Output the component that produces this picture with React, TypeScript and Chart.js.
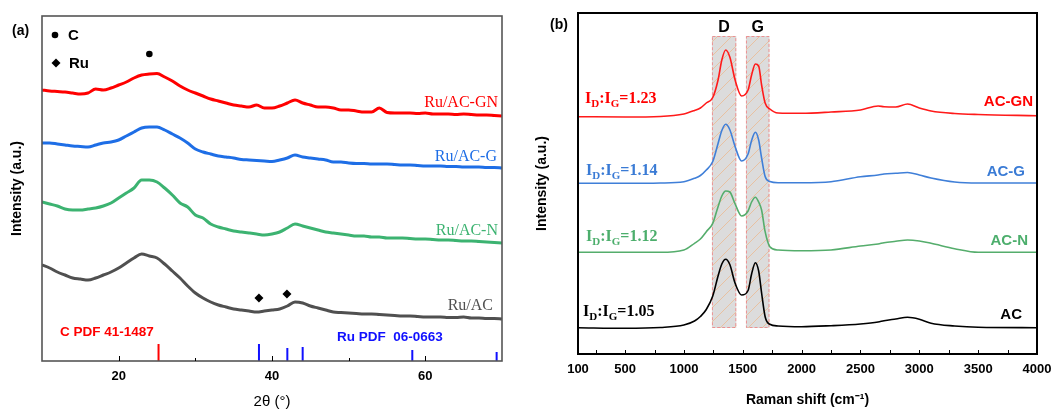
import { useEffect, useRef } from "react";
import { Chart, registerables } from "chart.js";

Chart.register(...registerables);

// ---------------- Panel (a): XRD ----------------
const twoTheta: number[] = Array.from({ length: 61 }, (_, i) => 10 + i);

const xrdRuACGN = [271, 270, 269.5, 269, 268, 267, 268, 272, 271, 273, 276, 279, 283, 286, 287, 287.5, 284, 280, 275, 271, 268, 265, 262, 260, 258, 256, 255, 254, 256, 253, 253, 255, 258, 261, 258, 256, 254, 254, 253, 251, 251, 250, 249, 249, 253, 248.5, 248, 248, 248, 247.5, 248, 247, 247, 247, 246.5, 247, 246.5, 246, 246, 245.5, 245];
const xrdRuACG = [218, 218, 217, 216, 215, 214.5, 214, 216, 218, 219, 221, 225, 229, 233, 234, 234, 231, 227, 223, 218, 212, 209, 207, 205, 204, 203, 201.5, 201, 200.5, 200, 199.5, 201, 203, 206, 204, 203, 202, 201, 199, 199, 198, 197.5, 197.5, 197, 197, 197, 196.5, 196, 196, 195.5, 195, 195, 195, 194.5, 194.5, 194, 194, 194, 193.5, 193.5, 193];
const xrdRuACN = [159, 157, 155, 152, 151, 151, 152, 153, 155, 158, 163, 168, 173, 181, 181, 179, 173, 166, 158, 154, 146, 143, 137, 134, 132, 130, 129, 128, 127, 126, 127, 129, 133, 137, 135, 133, 131, 129, 128, 127, 126, 125, 125, 124, 124, 123, 123, 123, 122.5, 122, 122, 121.5, 121, 121, 120.5, 120, 120, 119.5, 119, 118.5, 118];
const xrdRuAC = [96, 93, 89, 86, 83, 82, 81, 83, 86, 89, 93, 98, 103, 107, 105, 103, 97, 90, 83, 75, 68, 63, 59, 56, 54, 52, 51, 50, 49, 50, 51, 52, 55, 59, 58, 55, 53, 51, 49, 48.5, 48, 47.5, 47, 47, 46.5, 46, 45.5, 45, 45, 44.5, 44, 44, 44, 43.5, 43.5, 44, 43, 43, 42.5, 42.5, 42];

const xrdLabels = ["Ru/AC-GN", "Ru/AC-G", "Ru/AC-N", "Ru/AC"];
const xrdColors = ["#ff0000", "#1e6ee6", "#3cb371", "#505050"];

const pdfCPos = [25.2];
const pdfCHeight = [17];
const pdfRuPos = [38.3, 42.0, 44.0, 58.3, 69.3];
const pdfRuHeight = [17, 13, 14, 11, 9];

const carbonPeakX = [24.0];
const carbonPeakY = [307];
const ruPeakX = [38.3, 41.95];
const ruPeakY = [63, 67];

const xrdTickLabels = [20, 40, 60];
const xrdMinorTicks = [30, 50];

// ---------------- Panel (b): Raman ----------------
const ramanShift = [100, 500, 800, 1000, 1090, 1140, 1190, 1245, 1290, 1322, 1355, 1390, 1435, 1490, 1545, 1575, 1607, 1635, 1660, 1690, 1730, 1800, 2000, 2250, 2500, 2650, 2700, 2800, 2900, 3000, 3100, 3300, 3500, 4000];
const ramanACGN = [237.3, 237, 237.5, 240, 243.5, 246, 251, 256.5, 274, 294, 304, 297, 274, 258, 264, 279, 290, 288, 269, 251, 245, 241, 240.7, 242, 244, 248, 247.3, 247, 250, 246, 243, 240.5, 239.5, 238.3];
const ramanACG = [170.7, 170.7, 171, 172.3, 175.7, 178.5, 184, 192.5, 210.5, 223.5, 229.7, 224.3, 207.3, 193, 200, 213.5, 221.7, 214, 196, 177.5, 172.5, 171.3, 171.3, 172.3, 177.3, 179, 180, 180.7, 181.5, 179, 176, 172, 171, 171];
const ramanACN = [101.7, 101.7, 101.7, 104, 110.7, 115, 122.3, 130.7, 147.3, 158, 163, 162, 150, 138, 143, 152, 156.7, 152, 144, 122.3, 107.3, 104, 103.3, 104, 108, 110, 111.3, 112.7, 114, 113, 110.7, 105.3, 101.7, 101.7];
const ramanAC = [26.3, 25.7, 26.5, 29, 33, 37.5, 44.5, 58, 78, 90, 94.7, 89.5, 70.7, 59, 63.5, 80, 91.3, 83, 61, 37.3, 29.7, 28, 27.3, 28.3, 30, 32, 33.3, 35, 36.7, 34.8, 30.8, 28, 26.7, 26.3];

const ramanLabels = ["AC-GN", "AC-G", "AC-N", "AC"];
const ramanColors = ["#ff1a1a", "#3f7fd8", "#55ad6c", "#000000"];
const ramanLabelColors = ["#ff0000", "#3a7bd5", "#4cae6c", "#000000"];
const ramanRatios = ["1.23", "1.14", "1.12", "1.05"];

const bandNames = ["D", "G"];
const bandStart = [1238, 1527];
const bandEnd = [1445, 1727];
const bandLow = 26;
const bandHigh = 318;

const ramanTickLabels = [100, 500, 1000, 1500, 2000, 2500, 3000, 3500, 4000];
const ramanMinorTicks = [250, 750, 1250, 1750, 2250, 2750, 3250, 3750];

const SANS = '"Liberation Sans", Arial, sans-serif';
const SERIF = '"Liberation Serif", "Times New Roman", serif';

// ---------------- helpers ----------------
function drawFrameAndTicks(chart: any, color: string, width: number, major: number[], minor: number[], majorLen: number, minorLen: number) {
  const { ctx, chartArea, scales } = chart;
  const { left, top, right, bottom } = chartArea;
  ctx.save();
  ctx.strokeStyle = color;
  ctx.lineWidth = width;
  ctx.strokeRect(left, top, right - left, bottom - top);
  ctx.lineWidth = 1;
  ctx.strokeStyle = "#000";
  const tick = (v: number, len: number) => {
    const px = Math.round(scales.x.getPixelForValue(v)) + 0.5;
    ctx.beginPath();
    ctx.moveTo(px, bottom);
    ctx.lineTo(px, bottom - len);
    ctx.stroke();
  };
  major.forEach((v) => tick(v, majorLen));
  minor.forEach((v) => tick(v, minorLen));
  ctx.restore();
}

function drawRatio(ctx: CanvasRenderingContext2D, x: number, y: number, value: string, color: string) {
  const big = `bold 16px ${SERIF}`;
  const small = `bold 11px ${SERIF}`;
  ctx.fillStyle = color;
  ctx.textBaseline = "alphabetic";
  ctx.textAlign = "left";
  const parts: [string, string, number][] = [
    ["I", big, 0],
    ["D", small, 4],
    [":I", big, 0],
    ["G", small, 4],
    ["=" + value, big, 0],
  ];
  let cx = x;
  for (const [t, f, dy] of parts) {
    ctx.font = f;
    ctx.fillText(t, cx, y + dy);
    cx += ctx.measureText(t).width;
  }
}

const xrdDecor = {
  id: "xrdDecor",
  afterDraw(chart: any) {
    const { ctx, chartArea } = chart;
    const { left, top } = chartArea;
    drawFrameAndTicks(chart, "#555", 1.6, xrdTickLabels, xrdMinorTicks, 5, 3);
    ctx.save();
    ctx.fillStyle = "#000";
    ctx.font = `bold 14px ${SANS}`;
    ctx.textAlign = "left";
    ctx.textBaseline = "middle";
    ctx.fillText("(a)", 12, 31);
    ctx.beginPath();
    ctx.arc(left + 13, top + 19, 3.3, 0, Math.PI * 2);
    ctx.fill();
    const dx = left + 14, dy = top + 47;
    ctx.beginPath();
    ctx.moveTo(dx, dy - 4.5);
    ctx.lineTo(dx + 4.5, dy);
    ctx.lineTo(dx, dy + 4.5);
    ctx.lineTo(dx - 4.5, dy);
    ctx.closePath();
    ctx.fill();
    ctx.font = `bold 15px ${SANS}`;
    ctx.fillText("C", left + 26, top + 20);
    ctx.fillText("Ru", left + 27, top + 48);
    ctx.font = `16px ${SERIF}`;
    ctx.textAlign = "right";
    const labelY = [103, 157, 231, 306];
    const labelRight = [498, 497, 498, 493];
    xrdLabels.forEach((t, i) => {
      ctx.fillStyle = xrdColors[i];
      ctx.fillText(t, labelRight[i], labelY[i]);
    });
    ctx.textAlign = "left";
    ctx.font = `bold 13.5px ${SANS}`;
    ctx.fillStyle = "#ff0000";
    ctx.fillText("C PDF 41-1487", 60, 332);
    ctx.fillStyle = "#1010ff";
    ctx.fillText("Ru PDF  06-0663", 337, 337);
    ctx.restore();
  },
};

let hatchPattern: CanvasPattern | null = null;
function getHatch(ctx: CanvasRenderingContext2D) {
  if (hatchPattern) return hatchPattern;
  const c = document.createElement("canvas");
  c.width = 14;
  c.height = 14;
  const g = c.getContext("2d")!;
  g.fillStyle = "#dcdcdc";
  g.fillRect(0, 0, 14, 14);
  g.strokeStyle = "rgba(240,175,120,0.75)";
  g.lineWidth = 0.8;
  g.beginPath();
  g.moveTo(-1, 15);
  g.lineTo(15, -1);
  g.stroke();
  hatchPattern = ctx.createPattern(c, "repeat");
  return hatchPattern;
}

const ramanDecor = {
  id: "ramanDecor",
  beforeDatasetsDraw(chart: any) {
    const { ctx, scales } = chart;
    ctx.save();
    const yTop = scales.y.getPixelForValue(bandHigh);
    const yBot = scales.y.getPixelForValue(bandLow);
    bandStart.forEach((s, i) => {
      const x0 = scales.x.getPixelForValue(s);
      const x1 = scales.x.getPixelForValue(bandEnd[i]);
      ctx.fillStyle = getHatch(ctx);
      ctx.fillRect(x0, yTop, x1 - x0, yBot - yTop);
      ctx.strokeStyle = "rgba(240,120,120,0.75)";
      ctx.lineWidth = 1;
      ctx.setLineDash([3, 2]);
      ctx.strokeRect(x0 + 0.5, yTop + 0.5, x1 - x0 - 1, yBot - yTop - 1);
      ctx.setLineDash([]);
      ctx.fillStyle = "#000";
      ctx.font = `bold 16px ${SANS}`;
      ctx.textAlign = "center";
      ctx.textBaseline = "middle";
      ctx.fillText(bandNames[i], (x0 + x1) / 2, 27.5);
    });
    ctx.restore();
  },
  afterDraw(chart: any) {
    const { ctx } = chart;
    drawFrameAndTicks(chart, "#000", 2, ramanTickLabels.slice(1, -1), ramanMinorTicks, 4, 4);
    ctx.save();
    ctx.fillStyle = "#000";
    ctx.font = `bold 14px ${SANS}`;
    ctx.textAlign = "left";
    ctx.textBaseline = "middle";
    ctx.fillText("(b)", 20, 25);
    const ratioX = [55, 56, 56, 53];
    const ratioY = [102.5, 174.5, 241, 316];
    ramanRatios.forEach((v, i) => drawRatio(ctx, ratioX[i], ratioY[i], v, ramanLabelColors[i]));
    ctx.font = `bold 15px ${SANS}`;
    ctx.textAlign = "right";
    ctx.textBaseline = "middle";
    const labelRight = [503, 495, 498, 492];
    const labelY = [102, 172, 241, 315];
    ramanLabels.forEach((t, i) => {
      ctx.fillStyle = ramanLabelColors[i];
      ctx.fillText(t, labelRight[i], labelY[i]);
    });
    ctx.restore();
  },
};

function xrdConfig(): any {
  const series = [xrdRuACGN, xrdRuACG, xrdRuACN, xrdRuAC];
  const datasets: any[] = series.map((s, i) => ({
    type: "line",
    label: xrdLabels[i],
    data: twoTheta.map((x, j) => ({ x, y: s[j] })),
    borderColor: xrdColors[i],
    borderWidth: 3,
    pointRadius: 0,
    cubicInterpolationMode: "monotone",
  }));
  pdfCPos.forEach((p, i) =>
    datasets.push({ type: "line", data: [{ x: p, y: 0 }, { x: p, y: pdfCHeight[i] }], borderColor: "#ff0000", borderWidth: 2, pointRadius: 0 })
  );
  pdfRuPos.forEach((p, i) =>
    datasets.push({ type: "line", data: [{ x: p, y: 0 }, { x: p, y: pdfRuHeight[i] }], borderColor: "#1010ff", borderWidth: 2, pointRadius: 0 })
  );
  datasets.push({
    type: "scatter",
    data: carbonPeakX.map((x, i) => ({ x, y: carbonPeakY[i] })),
    pointStyle: "circle",
    pointRadius: 3.3,
    backgroundColor: "#000",
    borderColor: "#000",
    borderWidth: 0,
  });
  datasets.push({
    type: "scatter",
    data: ruPeakX.map((x, i) => ({ x, y: ruPeakY[i] })),
    pointStyle: "rectRot",
    pointRadius: 4.5,
    backgroundColor: "#000",
    borderColor: "#000",
    borderWidth: 0,
  });
  return {
    type: "line",
    data: { datasets },
    options: {
      animation: false,
      responsive: false,
      devicePixelRatio: 1,
      layout: { padding: { top: 16, right: 28, left: 0, bottom: 0 } },
      plugins: { legend: { display: false }, tooltip: { enabled: false } },
      scales: {
        x: {
          type: "linear",
          min: 10,
          max: 70,
          afterBuildTicks: (s: any) => {
            s.ticks = xrdTickLabels.map((v) => ({ value: v }));
          },
          afterFit: (s: any) => {
            s.height = 50;
            s.paddingLeft = 0;
            s.paddingRight = 0;
          },
          grid: { display: false, drawTicks: false },
          border: { display: false },
          ticks: { color: "#000", font: { family: SANS, size: 13, weight: "bold" }, padding: 8, maxRotation: 0, autoSkip: false, callback: (v: any) => String(v) },
          title: { display: true, text: "2θ (°)", color: "#000", font: { family: SANS, size: 15 }, padding: { top: 0, bottom: 0 } },
        },
        y: {
          type: "linear",
          min: 0,
          max: 345,
          afterFit: (s: any) => {
            s.width = 42;
            s.paddingTop = 0;
            s.paddingBottom = 0;
          },
          grid: { display: false, drawTicks: false },
          border: { display: false },
          ticks: { display: false },
          title: { display: true, text: "Intensity (a.u.)", color: "#000", font: { family: SANS, size: 14, weight: "bold" }, padding: { top: 9, bottom: 0 } },
        },
      },
    },
    plugins: [xrdDecor],
  };
}

function ramanConfig(): any {
  const series = [ramanACGN, ramanACG, ramanACN, ramanAC];
  const datasets = series.map((s, i) => ({
    type: "line",
    label: ramanLabels[i],
    data: ramanShift.map((x, j) => ({ x, y: s[j] })),
    borderColor: ramanColors[i],
    borderWidth: 1.6,
    pointRadius: 0,
    cubicInterpolationMode: "monotone",
  }));
  return {
    type: "line",
    data: { datasets },
    options: {
      animation: false,
      responsive: false,
      devicePixelRatio: 1,
      layout: { padding: { top: 13, right: 20, left: 0, bottom: 0 } },
      plugins: { legend: { display: false }, tooltip: { enabled: false } },
      scales: {
        x: {
          type: "linear",
          min: 100,
          max: 4000,
          afterBuildTicks: (s: any) => {
            s.ticks = ramanTickLabels.map((v) => ({ value: v }));
          },
          afterFit: (s: any) => {
            s.height = 57;
            s.paddingLeft = 0;
            s.paddingRight = 0;
          },
          grid: { display: false, drawTicks: false },
          border: { display: false },
          ticks: { color: "#000", font: { family: SANS, size: 13, weight: "bold" }, padding: 8, maxRotation: 0, autoSkip: false, callback: (v: any) => String(v) },
          title: { display: true, text: "Raman shift (cm⁻¹)", color: "#000", font: { family: SANS, size: 14, weight: "bold" }, padding: { top: 0, bottom: 2 } },
        },
        y: {
          type: "linear",
          min: 0,
          max: 341,
          afterFit: (s: any) => {
            s.width = 48;
            s.paddingTop = 0;
            s.paddingBottom = 0;
          },
          grid: { display: false, drawTicks: false },
          border: { display: false },
          ticks: { display: false },
          title: { display: true, text: "Intensity (a.u.)", color: "#000", font: { family: SANS, size: 14, weight: "bold" }, padding: { top: 4, bottom: 0 } },
        },
      },
    },
    plugins: [ramanDecor],
  };
}

function ChartCanvas({ make, width, height, left }: { make: () => any; width: number; height: number; left: number }) {
  const ref = useRef<HTMLCanvasElement>(null);
  useEffect(() => {
    const chart = new Chart(ref.current as HTMLCanvasElement, make());
    return () => chart.destroy();
  }, [make]);
  return (
    <canvas
      ref={ref}
      width={width}
      height={height}
      style={{ position: "absolute", left, top: 0, width, height }}
    />
  );
}

export default function App() {
  return (
    <div style={{ position: "fixed", left: 0, top: 0, width: 1057, height: 411, background: "#fff", overflow: "hidden" }}>
      <ChartCanvas make={xrdConfig} width={530} height={411} left={0} />
      <ChartCanvas make={ramanConfig} width={527} height={411} left={530} />
    </div>
  );
}
